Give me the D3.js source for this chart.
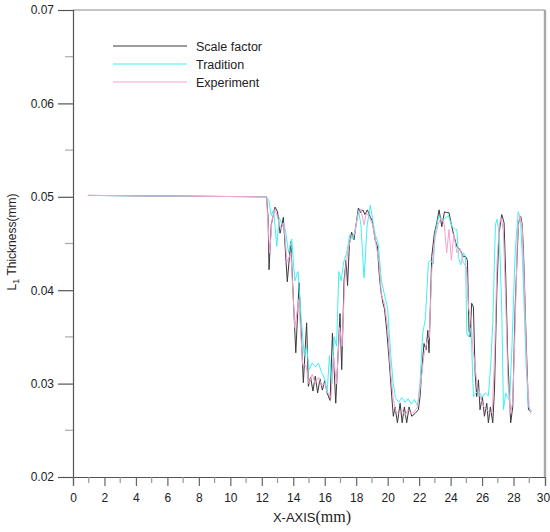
<!DOCTYPE html>
<html>
<head>
<meta charset="utf-8">
<script src="https://cdn.jsdelivr.net/npm/d3@7"></script>
<style>
  body { margin: 0; background: #fff; }
</style>
</head>
<body>
<div id="chart"></div>
<script>
// Data set
let seriesNames = ["Scale factor", "Tradition", "Experiment"];

let scaleX = [0.95, 6, 12.3, 12.4, 12.46, 12.6, 12.84, 13.0, 13.16, 13.37, 13.62, 13.84, 14.16, 14.37, 14.64, 14.85, 14.96, 15.1, 15.25, 15.4, 15.55, 15.7, 15.85, 16.0, 16.15, 16.34, 16.49, 16.7, 16.97, 17.08, 17.23, 17.36, 17.45, 17.57, 17.71, 17.86, 18.03, 18.14, 18.29, 18.42, 18.56, 18.71, 18.88, 19.03, 19.2, 19.35, 19.45, 19.56, 19.7, 19.8, 19.94, 20.11, 20.26, 20.36, 20.47, 20.62, 20.79, 20.92, 21.06, 21.21, 21.36, 21.53, 21.74, 21.95, 22.06, 22.17, 22.31, 22.44, 22.55, 22.63, 22.8, 22.97, 23.12, 23.27, 23.44, 23.61, 23.76, 23.9, 24.03, 24.17, 24.39, 24.6, 24.81, 24.96, 25.07, 25.17, 25.24, 25.34, 25.45, 25.56, 25.66, 25.77, 25.87, 26.02, 26.15, 26.3, 26.4, 26.53, 26.68, 26.79, 26.94, 27.08, 27.25, 27.4, 27.5, 27.63, 27.82, 27.95, 28.1, 28.31, 28.46, 28.55, 28.63, 28.8, 28.95, 29.1];
let scaleY = [0.05015, 0.05008, 0.0500, 0.0478, 0.0422, 0.0470, 0.0489, 0.0484, 0.0461, 0.0478, 0.0409, 0.0452, 0.0333, 0.0408, 0.0301, 0.0365, 0.0297, 0.0307, 0.0292, 0.0308, 0.0290, 0.0305, 0.0293, 0.0303, 0.0290, 0.0282, 0.0354, 0.0279, 0.0375, 0.0315, 0.0411, 0.0432, 0.0405, 0.0450, 0.0462, 0.0454, 0.0475, 0.0488, 0.0483, 0.0486, 0.0481, 0.0486, 0.0479, 0.0474, 0.0454, 0.0447, 0.0420, 0.0400, 0.0386, 0.0380, 0.0357, 0.0322, 0.0286, 0.0265, 0.0275, 0.0258, 0.0279, 0.0258, 0.0275, 0.0258, 0.0275, 0.0265, 0.0268, 0.0272, 0.0286, 0.0315, 0.0343, 0.0336, 0.0357, 0.0333, 0.0436, 0.0461, 0.0472, 0.0486, 0.0468, 0.0484, 0.0483, 0.0483, 0.0472, 0.0461, 0.0447, 0.0443, 0.0436, 0.0436, 0.0432, 0.0357, 0.0350, 0.0386, 0.0382, 0.0311, 0.0286, 0.0304, 0.0272, 0.0286, 0.0265, 0.0279, 0.0258, 0.0275, 0.0258, 0.0293, 0.0400, 0.0461, 0.0481, 0.0472, 0.0418, 0.0329, 0.0258, 0.0275, 0.0380, 0.0472, 0.0479, 0.0470, 0.0443, 0.0347, 0.0272, 0.0270];

let tradX = [0.95, 6, 12.3, 12.45, 12.6, 12.75, 12.95, 13.1, 13.3, 13.5, 13.7, 13.9, 14.1, 14.3, 14.5, 14.7, 14.85, 15.0, 15.2, 15.4, 15.6, 15.8, 16.0, 16.15, 16.3, 16.45, 16.6, 16.75, 16.9, 17.05, 17.2, 17.4, 17.6, 17.8, 18.0, 18.15, 18.3, 18.5, 18.7, 18.9, 19.05, 19.2, 19.4, 19.6, 19.8, 20.0, 20.2, 20.35, 20.5, 20.7, 20.9, 21.1, 21.3, 21.5, 21.7, 21.9, 22.05, 22.23, 22.4, 22.59, 22.75, 22.9, 23.02, 23.24, 23.45, 23.65, 23.86, 24.09, 24.3, 24.4, 24.5, 24.64, 24.81, 24.95, 25.03, 25.15, 25.3, 25.45, 25.6, 25.8, 26.0, 26.2, 26.4, 26.55, 26.68, 26.85, 26.95, 27.1, 27.25, 27.36, 27.5, 27.6, 27.75, 27.9, 28.1, 28.3, 28.45, 28.6, 28.8, 28.95, 29.15];
let tradY = [0.05015, 0.05008, 0.0500, 0.0496, 0.0480, 0.0486, 0.0447, 0.0478, 0.0470, 0.0465, 0.0440, 0.0455, 0.0410, 0.0420, 0.0370, 0.0330, 0.0340, 0.0315, 0.0322, 0.0318, 0.0322, 0.0312, 0.0305, 0.0290, 0.0330, 0.0300, 0.0350, 0.0340, 0.0420, 0.0410, 0.0430, 0.0440, 0.0460, 0.0455, 0.0470, 0.0485, 0.0470, 0.0413, 0.0470, 0.0491, 0.0475, 0.0460, 0.0450, 0.0410, 0.0395, 0.0380, 0.0330, 0.0300, 0.0285, 0.0280, 0.0285, 0.0280, 0.0284, 0.0278, 0.0283, 0.0276, 0.0300, 0.0354, 0.0370, 0.0430, 0.0432, 0.0428, 0.0461, 0.0479, 0.0476, 0.0477, 0.0480, 0.0468, 0.0465, 0.0465, 0.0436, 0.0427, 0.0440, 0.0436, 0.0354, 0.0350, 0.0360, 0.0286, 0.0290, 0.0292, 0.0285, 0.0290, 0.0287, 0.0320, 0.0365, 0.0470, 0.0476, 0.0460, 0.0380, 0.0272, 0.0290, 0.0286, 0.0282, 0.0340, 0.0440, 0.0484, 0.0475, 0.0420, 0.0320, 0.0275, 0.0270];

let expX = [0.95, 6, 12.3, 12.4, 12.5, 12.65, 12.85, 13.05, 13.2, 13.4, 13.6, 13.85, 14.1, 14.35, 14.6, 14.8, 15.0, 15.2, 15.4, 15.6, 15.8, 16.0, 16.2, 16.4, 16.55, 16.75, 16.95, 17.1, 17.3, 17.5, 17.7, 17.9, 18.1, 18.3, 18.5, 18.65, 18.85, 19.05, 19.25, 19.45, 19.6, 19.8, 20.0, 20.2, 20.35, 20.5, 20.7, 20.9, 21.1, 21.3, 21.5, 21.7, 21.9, 22.1, 22.3, 22.5, 22.65, 22.8, 23.0, 23.2, 23.4, 23.6, 23.75, 23.9, 24.05, 24.2, 24.4, 24.6, 24.8, 25.0, 25.15, 25.3, 25.4, 25.55, 25.7, 25.9, 26.1, 26.3, 26.5, 26.65, 26.8, 26.95, 27.1, 27.2, 27.35, 27.5, 27.65, 27.8, 27.95, 28.1, 28.25, 28.4, 28.55, 28.7, 28.85, 29.0, 29.1];
let expY = [0.05015, 0.05008, 0.0500, 0.0470, 0.0440, 0.0475, 0.0487, 0.0475, 0.0465, 0.0472, 0.0430, 0.0440, 0.0360, 0.0390, 0.0320, 0.0320, 0.0300, 0.0310, 0.0300, 0.0307, 0.0298, 0.0300, 0.0290, 0.0285, 0.0330, 0.0300, 0.0360, 0.0340, 0.0420, 0.0445, 0.0458, 0.0460, 0.0480, 0.0487, 0.0470, 0.0483, 0.0478, 0.0470, 0.0450, 0.0430, 0.0395, 0.0385, 0.0360, 0.0310, 0.0285, 0.0270, 0.0268, 0.0272, 0.0266, 0.0272, 0.0268, 0.0270, 0.0275, 0.0300, 0.0330, 0.0345, 0.0350, 0.0420, 0.0455, 0.0470, 0.0478, 0.0470, 0.0440, 0.0465, 0.0432, 0.0460, 0.0440, 0.0445, 0.0430, 0.0425, 0.0380, 0.0370, 0.0340, 0.0320, 0.0295, 0.0285, 0.0275, 0.0272, 0.0268, 0.0270, 0.0330, 0.0430, 0.0470, 0.0478, 0.0465, 0.0390, 0.0300, 0.0268, 0.0280, 0.0360, 0.0460, 0.0480, 0.0468, 0.0400, 0.0310, 0.0275, 0.0268];

let xTicks = [0, 2, 4, 6, 8, 10, 12, 14, 16, 18, 20, 22, 24, 26, 28, 30];
let yTicks = [0.02, 0.03, 0.04, 0.05, 0.06, 0.07];

// Initalize
let width = 550, height = 532;
let margin = {top: 10, right: 5, bottom: 55, left: 73};
let sans = "'Liberation Sans', Arial, sans-serif";
let serif = "'Liberation Serif', 'Times New Roman', serif";

let svg = d3.select("#chart").append("svg")
  .attr("width", width)
  .attr("height", height)
  .style("font-family", sans);

let x = d3.scaleLinear().domain([0, 30]).range([margin.left, width - margin.right]);
let y = d3.scaleLinear().domain([0.02, 0.07]).range([height - margin.bottom, margin.top]);

// Frame (top and right)
svg.append("line")
  .attr("x1", x(0)).attr("x2", x(30))
  .attr("y1", y(0.07)).attr("y2", y(0.07))
  .attr("stroke", "#8c8c8c").attr("stroke-width", 1.2);
svg.append("line")
  .attr("x1", x(30)).attr("x2", x(30))
  .attr("y1", y(0.07)).attr("y2", y(0.02))
  .attr("stroke", "#a8a8a8").attr("stroke-width", 2.4);

// Y axis
let yAxis = svg.append("g")
  .attr("transform", "translate(" + x(0) + ",0)")
  .call(d3.axisLeft(y).tickValues(yTicks).tickSize(15).tickPadding(4)
    .tickFormat(function (d) { return d3.format(".2f")(d); }));
yAxis.select(".domain").attr("stroke", "#555").attr("stroke-width", 1.2);
yAxis.selectAll(".tick line").attr("stroke", "#555").attr("stroke-width", 1.2);
yAxis.selectAll("text").style("font-size", "12px").attr("fill", "#222").style("font-family", sans);
yAxis.selectAll(".minor")
  .data(d3.range(0.025, 0.07, 0.01))
  .enter().append("line")
  .attr("x1", -8).attr("x2", 0)
  .attr("y1", function (d) { return y(d); }).attr("y2", function (d) { return y(d); })
  .attr("stroke", "#aaa").attr("stroke-width", 1.2);

// X axis
let xAxis = svg.append("g")
  .attr("transform", "translate(0," + y(0.02) + ")")
  .call(d3.axisBottom(x).tickValues(xTicks).tickSize(9).tickPadding(7));
xAxis.select(".domain").attr("stroke", "#555").attr("stroke-width", 1.2);
xAxis.selectAll(".tick line").attr("stroke", "#666").attr("stroke-width", 1.2);
xAxis.selectAll("text").style("font-size", "12px").attr("fill", "#222").style("font-family", sans)
  .attr("dx", function (d) { return d === 30 ? -2 : 0; });
xAxis.selectAll(".minor")
  .data(d3.range(1, 30, 2))
  .enter().append("line")
  .attr("x1", function (d) { return x(d); }).attr("x2", function (d) { return x(d); })
  .attr("y1", 0).attr("y2", 6)
  .attr("stroke", "#999").attr("stroke-width", 1.2);

// Axis titles
let xt = svg.append("text")
  .attr("x", 312).attr("y", 522)
  .attr("text-anchor", "middle")
  .style("font-size", "13px").attr("fill", "#222");
xt.append("tspan").text("X-AXIS");
xt.append("tspan").style("font-family", serif).style("font-size", "16px").text("(mm)");

let yt = svg.append("text")
  .attr("transform", "translate(16,242) rotate(-90)")
  .attr("text-anchor", "middle")
  .style("font-size", "12px").attr("fill", "#222");
yt.append("tspan").text("L");
yt.append("tspan").style("font-size", "9px").attr("dy", 3).text("1");
yt.append("tspan").attr("dy", -3).text(" Thickness(mm)");

// Lines
let series = [
  {name: seriesNames[0], xs: scaleX, ys: scaleY, color: "#3a3a3a", w: 1},
  {name: seriesNames[1], xs: tradX, ys: tradY, color: "#3ff0f5", w: 1},
  {name: seriesNames[2], xs: expX, ys: expY, color: "#f4a3d2", w: 1}
];

let line = d3.line()
  .x(function (d) { return x(d[0]); })
  .y(function (d) { return y(d[1]); });

series.forEach(function (s) {
  let pts = s.xs.map(function (v, i) { return [v, s.ys[i]]; });
  svg.append("path")
    .datum(pts)
    .attr("d", line)
    .attr("fill", "none")
    .attr("stroke", s.color)
    .attr("stroke-width", s.w);
});

// Legend
let legend = svg.append("g");
series.forEach(function (s, i) {
  legend.append("line")
    .attr("x1", 113).attr("x2", 187)
    .attr("y1", 46 + i * 18).attr("y2", 46 + i * 18)
    .attr("stroke", s.color).attr("stroke-width", 1);
  legend.append("text")
    .attr("x", 196).attr("y", 50.5 + i * 18)
    .style("font-size", "12.5px").attr("fill", "#222")
    .text(s.name);
});
</script>
</body>
</html>
